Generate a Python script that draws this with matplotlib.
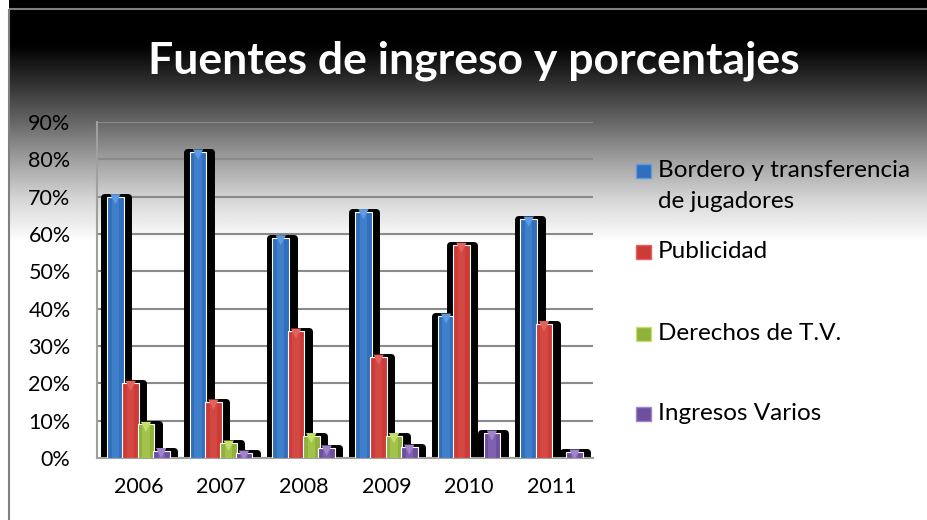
import matplotlib.pyplot as plt
import numpy as np
from matplotlib.patches import Rectangle

years = ["2006", "2007", "2008", "2009", "2010", "2011"]
series_names = ["Bordero y transferencia\nde jugadores", "Publicidad", "Derechos de T.V.", "Ingresos Varios"]
bordero = [0.70, 0.82, 0.59, 0.66, 0.38, 0.64]
publicidad = [0.20, 0.15, 0.34, 0.27, 0.57, 0.36]
derechos_tv = [0.09, 0.04, 0.06, 0.06, 0.0, 0.0]
ingresos_varios = [0.02, 0.013, 0.027, 0.029, 0.067, 0.016]
yticks = [0.0, 0.1, 0.2, 0.3, 0.4, 0.5, 0.6, 0.7, 0.8, 0.9]

colors = ["#2f6fbd", "#cc3b37", "#8fb23c", "#6f4f9f"]
light = ["#5f9be0", "#e5625c", "#c6e06a", "#a084cc"]
FONT = "Lato"

W, H = 928, 520
fig = plt.figure(figsize=(W / 100, H / 100), dpi=100)

# background: white margin, then black-to-white gradient chart area (pixel coords)
bg = fig.add_axes([0, 0, 1, 1], zorder=0)
bg.axis("off")
ys = np.arange(H)
shade = np.interp(ys, [9, 45, 80, 120, 160, 200, 242], [0, 0, 45, 100, 160, 215, 255]) / 255
grad = np.repeat(shade[:, None], 2, axis=1)
bg.imshow(grad, cmap="gray", vmin=0, vmax=1, extent=[9, W, H, 0], aspect="auto", interpolation="bilinear")
bg.add_patch(Rectangle((9, 9), W, H, fill=False, edgecolor="#808080", linewidth=1.5))
bg.set_xlim(0, W)
bg.set_ylim(H, 0)

fig.text(474 / W, 1 - 61 / H, "Fuentes de ingreso y porcentajes", color="white",
         fontsize=32, fontweight="bold", family=FONT, ha="center", va="center")

ax = fig.add_axes([97 / W, (H - 458) / H, (593 - 97) / W, (458 - 122) / H], zorder=1)
ax.patch.set_alpha(0)

x = np.arange(len(years))
width = 0.2
step = 0.185
all_series = [bordero, publicidad, derechos_tv, ingresos_varios]
for i, vals in enumerate(all_series):
    xs = x + (i - 1.5) * step
    # black shadow with rounded top, behind all bars
    ax.bar(xs + 0.01, vals, width + 0.09, color="black", edgecolor="black",
           linewidth=5, joinstyle="round", zorder=2)
for i, vals in enumerate(all_series):
    xs = x + (i - 1.5) * step
    ax.bar(xs, vals, width, color=colors[i], edgecolor="white", linewidth=0.8, zorder=3)
    ax.bar(xs, vals, width * 0.45, color=light[i], alpha=0.35, linewidth=0, zorder=4)
    vals_arr = np.array(vals)
    keep = vals_arr > 0.005
    ax.scatter(xs[keep], vals_arr[keep] - 0.007, marker="v", s=55, color=light[i],
               edgecolors="none", zorder=5)

ax.set_xlim(-0.5, len(years) - 0.5)
ax.set_ylim(0, 0.9)
ax.set_yticks(yticks)
ax.set_yticklabels([f"{int(round(t * 100))}%" for t in yticks], fontsize=15.5, family=FONT)
ax.set_xticks(x)
ax.set_xticklabels(years, fontsize=15.5, family=FONT)
ax.tick_params(axis="y", length=0, pad=19)
ax.tick_params(axis="x", length=0, pad=14)
ax.grid(axis="y", color="#8a8a8a", linewidth=1.5, zorder=1)
ax.set_axisbelow(True)
for side in ["top", "right"]:
    ax.spines[side].set_visible(False)
for side in ["left", "bottom"]:
    ax.spines[side].set_color("#a0a0a0")
    ax.spines[side].set_linewidth(1.5)

# legend laid out like the original: marker beside the first text line
legend_rows = [171, 252, 334, 414]
for name, col, lt, row in zip(series_names, colors, light, legend_rows):
    bg.add_patch(Rectangle((636, row - 7), 15, 14, facecolor=col, edgecolor=lt, linewidth=1))
    bg.text(658, row - 11, name, fontsize=17.5, family=FONT, ha="left", va="top",
            linespacing=1.6)

fig.savefig("out.png", dpi=100)
